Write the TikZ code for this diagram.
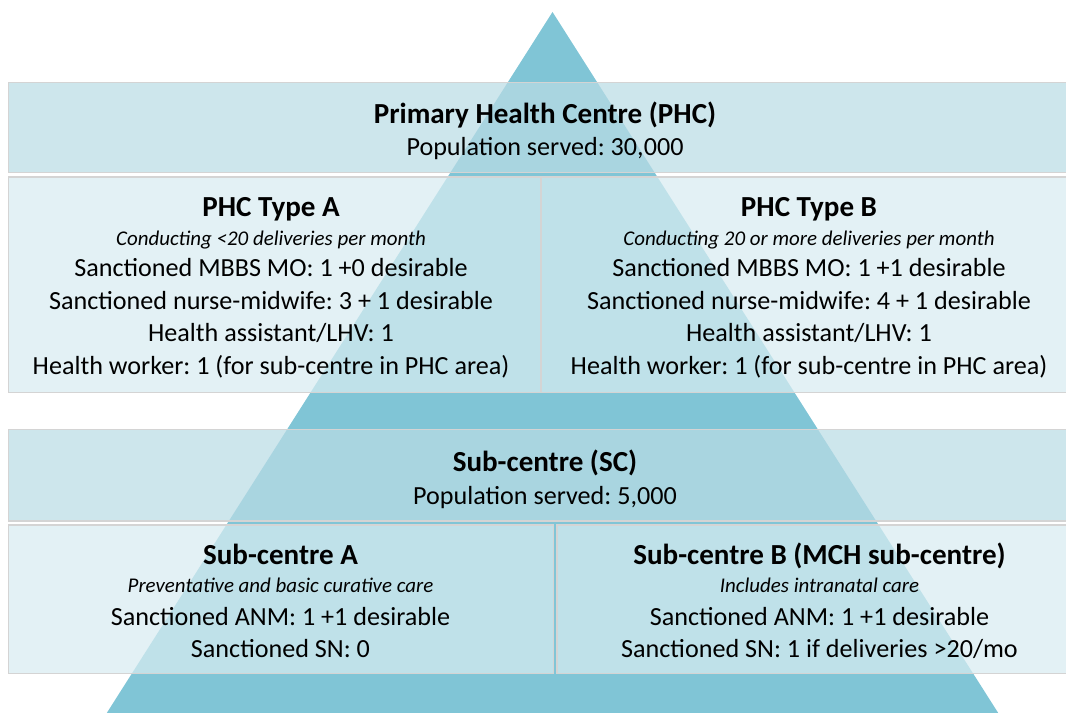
\documentclass[tikz,border=0pt]{standalone}
\usepackage{fontspec}
\setmainfont{Carlito}
\frenchspacing
\definecolor{pyramid}{RGB}{128,197,214}
\definecolor{bandfill}{RGB}{186,220,229}
\definecolor{cellfill}{RGB}{216,236,241}
\definecolor{edgegray}{RGB}{212,212,212}
\begin{document}
\begin{tikzpicture}[x=0.75pt,y=-0.75pt,
  band/.style={fill=bandfill, fill opacity=0.72, draw=edgegray, draw opacity=1, line width=1.2pt},
  cell/.style={fill=cellfill, fill opacity=0.72, draw=edgegray, draw opacity=1, line width=1.2pt},
  ttl/.style={anchor=base, inner sep=0pt, font=\fontsize{21.8}{26}\selectfont\bfseries},
  sub/.style={anchor=base, inner sep=0pt, font=\fontsize{15.7}{19}\selectfont\itshape},
  txt/.style={anchor=base, inner sep=0pt, font=\fontsize{19.6}{24}\selectfont}]
\useasboundingbox (0,0) rectangle (1066,713);
\clip (0,0) rectangle (1066,713);

% pyramid behind the tiers
\fill[pyramid] (552.5,12) -- (999.5,715) -- (105.5,715) -- cycle;

% PHC tier
\draw[band] (8.5,82.5) rectangle (1082,172.5);
\draw[cell] (8.5,177) rectangle (541,392.5);
\draw[cell] (541,177) rectangle (1082,392.5);

% sub-centre tier
\draw[band] (8.5,429.5) rectangle (1082,521);
\draw[cell] (8.5,524.8) rectangle (553.5,673.5);
\draw[cell] (556.8,524.8) rectangle (1082,673.5);

% PHC header
\node[ttl] (phc) at (545,123.5) {Primary Health Centre (PHC)};
\node[txt] (phcpop) at (545,156) {Population served: 30,000};

% PHC type A
\node[ttl] (pha) at (271,216.7) {PHC Type A};
\node[sub] (phanote) at (271,245) {Conducting <20 deliveries per month};
\node[txt] (phamo) at (271,276.7) {Sanctioned MBBS MO: 1 +0 desirable};
\node[txt] (phanm) at (271,309) {Sanctioned nurse-midwife: 3 + 1 desirable};
\node[txt] (phalhv) at (271,341.7) {Health assistant/LHV: 1};
\node[txt] (phahw) at (271,374) {Health worker: 1 (for sub-centre in PHC area)};

% PHC type B
\node[ttl] (phb) at (809,216.7) {PHC Type B};
\node[sub] (phbnote) at (809,245) {Conducting 20 or more deliveries per month};
\node[txt] (phbmo) at (809,276.7) {Sanctioned MBBS MO: 1 +1 desirable};
\node[txt] (phbnm) at (809,309) {Sanctioned nurse-midwife: 4 + 1 desirable};
\node[txt] (phblhv) at (809,341.7) {Health assistant/LHV: 1};
\node[txt] (phbhw) at (809,374) {Health worker: 1 (for sub-centre in PHC area)};

% sub-centre header
\node[ttl] (sc) at (545,471.5) {Sub-centre (SC)};
\node[txt] (scpop) at (545,504) {Population served: 5,000};

% sub-centre A
\node[ttl] (sca) at (280.5,564) {Sub-centre A};
\node[sub] (scanote) at (280.5,592) {Preventative and basic curative care};
\node[txt] (scaanm) at (280.5,625) {Sanctioned ANM: 1 +1 desirable};
\node[txt] (scasn) at (280.5,657) {Sanctioned SN: 0};

% sub-centre B
\node[ttl] (scb) at (819.5,564) {Sub-centre B (MCH sub-centre)};
\node[sub] (scbnote) at (819.5,592) {Includes intranatal care};
\node[txt] (scbanm) at (819.5,625) {Sanctioned ANM: 1 +1 desirable};
\node[txt] (scbsn) at (819.5,657) {Sanctioned SN: 1 if deliveries >20/mo};
\end{tikzpicture}
\end{document}
